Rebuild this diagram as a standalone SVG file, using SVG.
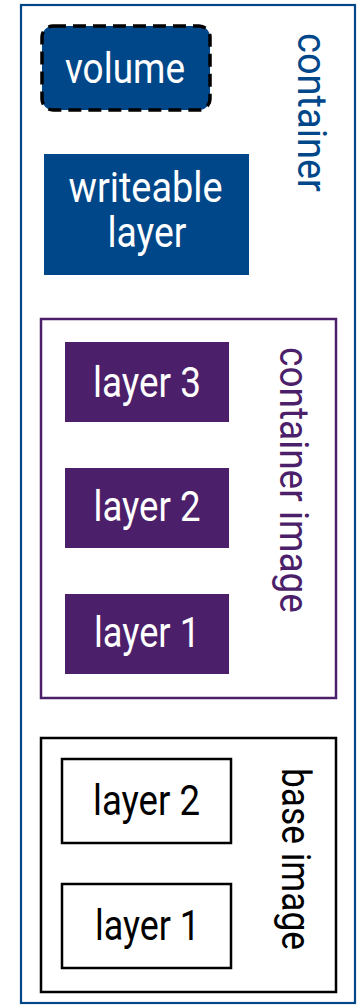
<svg xmlns="http://www.w3.org/2000/svg" width="357" height="1007" viewBox="0 0 357 1007">
  <style>
    text { font-family: Roboto, "Noto Sans", "Liberation Sans", sans-serif; font-size: 42px; }
    .lbl { fill: #ffffff; text-anchor: middle; }
    .lbl-dark { fill: #000000; text-anchor: middle; }
    .side { text-anchor: middle; font-size: 40px; }
    .blue-box { fill: #00478a; }
    .purple-box { fill: #4c1f6b; }
    .plain-box { fill: #ffffff; stroke: #000000; stroke-width: 2.5; }
  </style>
  <rect width="357" height="1007" fill="#ffffff"/>

  <!-- outer container frame -->
  <g id="container">
    <rect x="21" y="5" width="334" height="998" fill="none" stroke="#00478a" stroke-width="2.2"/>
    <text class="side" fill="#00478a" lengthAdjust="spacingAndGlyphs" textLength="159" transform="translate(298,112.5) rotate(90)">container</text>
  </g>

  <g id="volume">
    <rect class="blue-box" x="42" y="26" width="168" height="84" rx="11" stroke="#000000" stroke-width="3.5" stroke-dasharray="13 7"/>
    <text class="lbl" x="125" y="83" textLength="120" lengthAdjust="spacingAndGlyphs">volume</text>
  </g>

  <g id="writeable-layer">
    <rect class="blue-box" x="44" y="154" width="205" height="121"/>
    <text class="lbl" x="145.5" y="201.7" textLength="154" lengthAdjust="spacingAndGlyphs">writeable</text>
    <text class="lbl" x="147" y="246.7" textLength="79" lengthAdjust="spacingAndGlyphs">layer</text>
  </g>

  <!-- container image: three read-only layers -->
  <g id="container-image">
    <rect x="41" y="319" width="295" height="379" fill="none" stroke="#4c1f6b" stroke-width="2.5"/>
    <text class="side" fill="#4c1f6b" lengthAdjust="spacingAndGlyphs" textLength="266" transform="translate(280,480) rotate(90)">container image</text>
  </g>
  <g id="ci-layer-3">
    <rect class="purple-box" x="65" y="342" width="164" height="80"/>
    <text class="lbl" x="147" y="396.7" textLength="108" lengthAdjust="spacingAndGlyphs">layer 3</text>
  </g>
  <g id="ci-layer-2">
    <rect class="purple-box" x="65" y="468" width="164" height="80"/>
    <text class="lbl" x="147" y="521" textLength="107" lengthAdjust="spacingAndGlyphs">layer 2</text>
  </g>
  <g id="ci-layer-1">
    <rect class="purple-box" x="65" y="594" width="164" height="80"/>
    <text class="lbl" x="147" y="646.7" textLength="106" lengthAdjust="spacingAndGlyphs">layer 1</text>
  </g>

  <!-- base image -->
  <g id="base-image">
    <rect x="41" y="738" width="295" height="254" fill="none" stroke="#000000" stroke-width="2.5"/>
    <text class="side" fill="#000000" lengthAdjust="spacingAndGlyphs" textLength="182" transform="translate(281.7,859) rotate(90)">base image</text>
  </g>
  <g id="bi-layer-2">
    <rect class="plain-box" x="62" y="759" width="169" height="84"/>
    <text class="lbl-dark" x="146.5" y="815" textLength="107" lengthAdjust="spacingAndGlyphs">layer 2</text>
  </g>
  <g id="bi-layer-1">
    <rect class="plain-box" x="62" y="884" width="169" height="84"/>
    <text class="lbl-dark" x="147.5" y="940" textLength="105" lengthAdjust="spacingAndGlyphs">layer 1</text>
  </g>

  <g id="connectors"/>
</svg>
